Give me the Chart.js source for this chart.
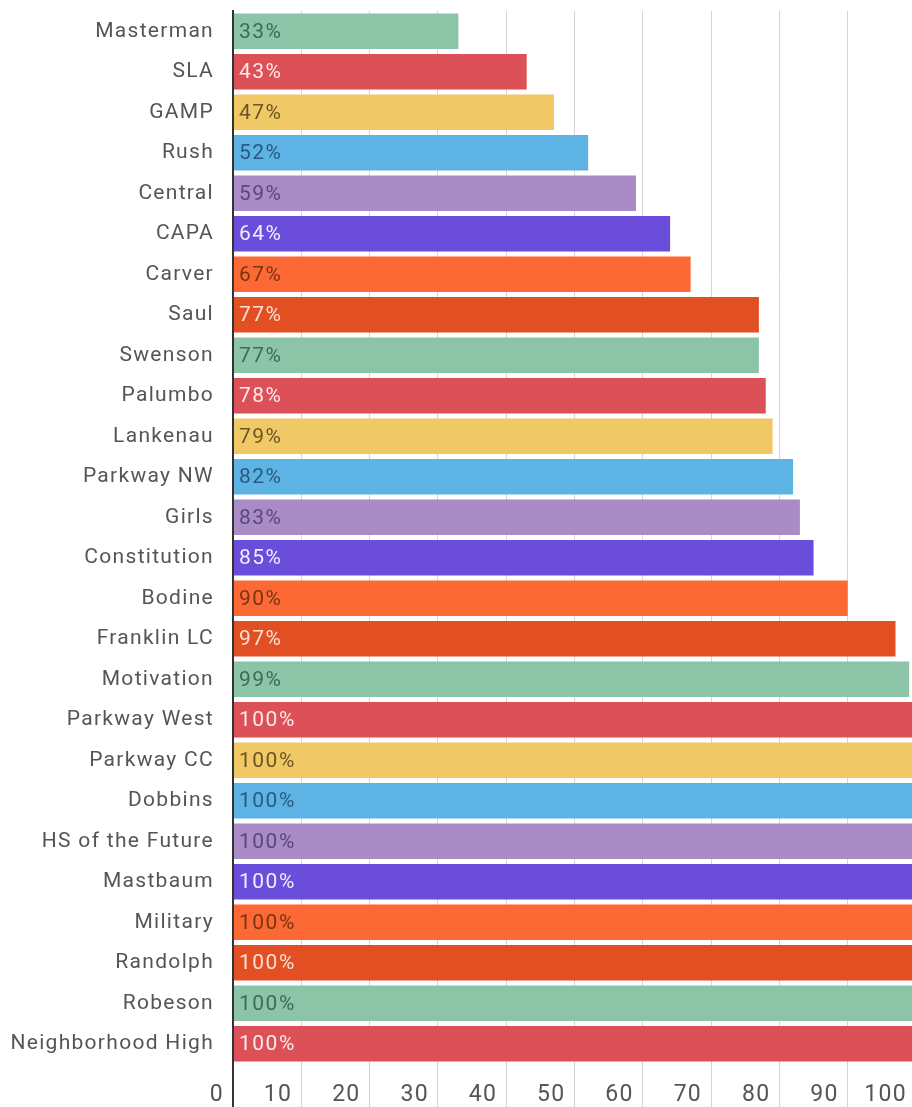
<!DOCTYPE html>
<html>
<head>
<meta charset="utf-8">
<script src="https://cdn.jsdelivr.net/npm/chart.js@4"></script>
<style>
  html, body { margin: 0; padding: 0; background: #fff; overflow: hidden; }
  #wrap { width: 916px; height: 1107px; position: relative; }
</style>
</head>
<body>
<div id="wrap"><canvas id="chart"></canvas></div>
<script>
const schools = ['Masterman', 'SLA', 'GAMP', 'Rush', 'Central', 'CAPA', 'Carver', 'Saul',
    'Swenson', 'Palumbo', 'Lankenau', 'Parkway NW', 'Girls', 'Constitution', 'Bodine',
    'Franklin LC', 'Motivation', 'Parkway West', 'Parkway CC', 'Dobbins', 'HS of the Future',
    'Mastbaum', 'Military', 'Randolph', 'Robeson', 'Neighborhood High'];
const percents = [33, 43, 47, 52, 59, 64, 67, 77, 77, 78, 79, 82, 83, 85, 90, 97, 99,
    100, 100, 100, 100, 100, 100, 100, 100, 100];
const xTicks = [0, 10, 20, 30, 40, 50, 60, 70, 80, 90, 100];

// colour cycle used by the bars, and the text colour drawn on each
const palette = ['#8cc4a8', '#dc5158', '#f0c865', '#5cb3e4', '#a98bc6', '#6a4ddb', '#fd6934', '#e14f23'];
const labelInk = ['#3d6b55', '#fbe9ea', '#6b5522', '#2b5a80', '#5a4878', '#f1edff', '#7a3412', '#fbe0d4'];

const barColors = schools.map((s, i) => palette[i % palette.length]);

// draws the "33%" labels at the start of each bar
const valueLabels = {
    id: 'valueLabels',
    afterDatasetsDraw(chart) {
        const ctx = chart.ctx;
        const meta = chart.getDatasetMeta(0);
        ctx.save();
        ctx.font = '21px Roboto';
        ctx.letterSpacing = '1.5px';
        ctx.textAlign = 'left';
        ctx.textBaseline = 'middle';
        meta.data.forEach((bar, i) => {
            ctx.fillStyle = labelInk[i % labelInk.length];
            ctx.fillText(percents[i] + '%', bar.base + 5, bar.y + 1);
        });
        ctx.restore();
    }
};

// wider letter spacing for the category names
const spacing = {
    id: 'spacing',
    beforeDraw(chart) { chart.ctx.letterSpacing = '1.3px'; },
    beforeDatasetsDraw(chart) { chart.ctx.letterSpacing = '0px'; }
};

new Chart(document.getElementById('chart'), {
    type: 'bar',
    data: {
        labels: schools,
        datasets: [{
            data: percents,
            backgroundColor: barColors,
            borderWidth: 0,
            categoryPercentage: 1,
            barPercentage: 0.88
        }]
    },
    options: {
        indexAxis: 'y',
        responsive: true,
        maintainAspectRatio: false,
        animation: false,
        layout: { padding: { top: 11, right: 0, bottom: 0, left: 0 } },
        plugins: { legend: { display: false }, tooltip: { enabled: false } },
        scales: {
            x: {
                min: 0,
                max: 100,
                afterBuildTicks: (axis) => { axis.ticks = xTicks.map(v => ({ value: v })); },
                afterFit: (axis) => {
                    axis.height = 43;
                    axis.paddingLeft = 0;
                    axis.paddingRight = 0;
                },
                grid: {
                    color: (c) => c.index === 0 ? '#333' : '#d4d4d4',
                    lineWidth: (c) => c.index === 0 ? 2 : 1,
                    tickLength: 43,
                    drawTicks: true
                },
                border: { display: false },
                ticks: {
                    align: 'end',
                    labelOffset: -9,
                    padding: -26,
                    color: '#555',
                    font: { family: 'Roboto', size: 23 },
                    maxRotation: 0,
                    autoSkip: false
                }
            },
            y: {
                afterFit: (axis) => {
                    axis.width = 233;
                    axis.paddingTop = 0;
                    axis.paddingBottom = 0;
                },
                grid: { display: false },
                border: { display: true, color: '#333', width: 2 },
                ticks: {
                    padding: 11,
                    color: '#555',
                    font: { family: 'Roboto', size: 21 },
                    autoSkip: false
                }
            }
        }
    },
    plugins: [spacing, valueLabels]
});
</script>
</body>
</html>
